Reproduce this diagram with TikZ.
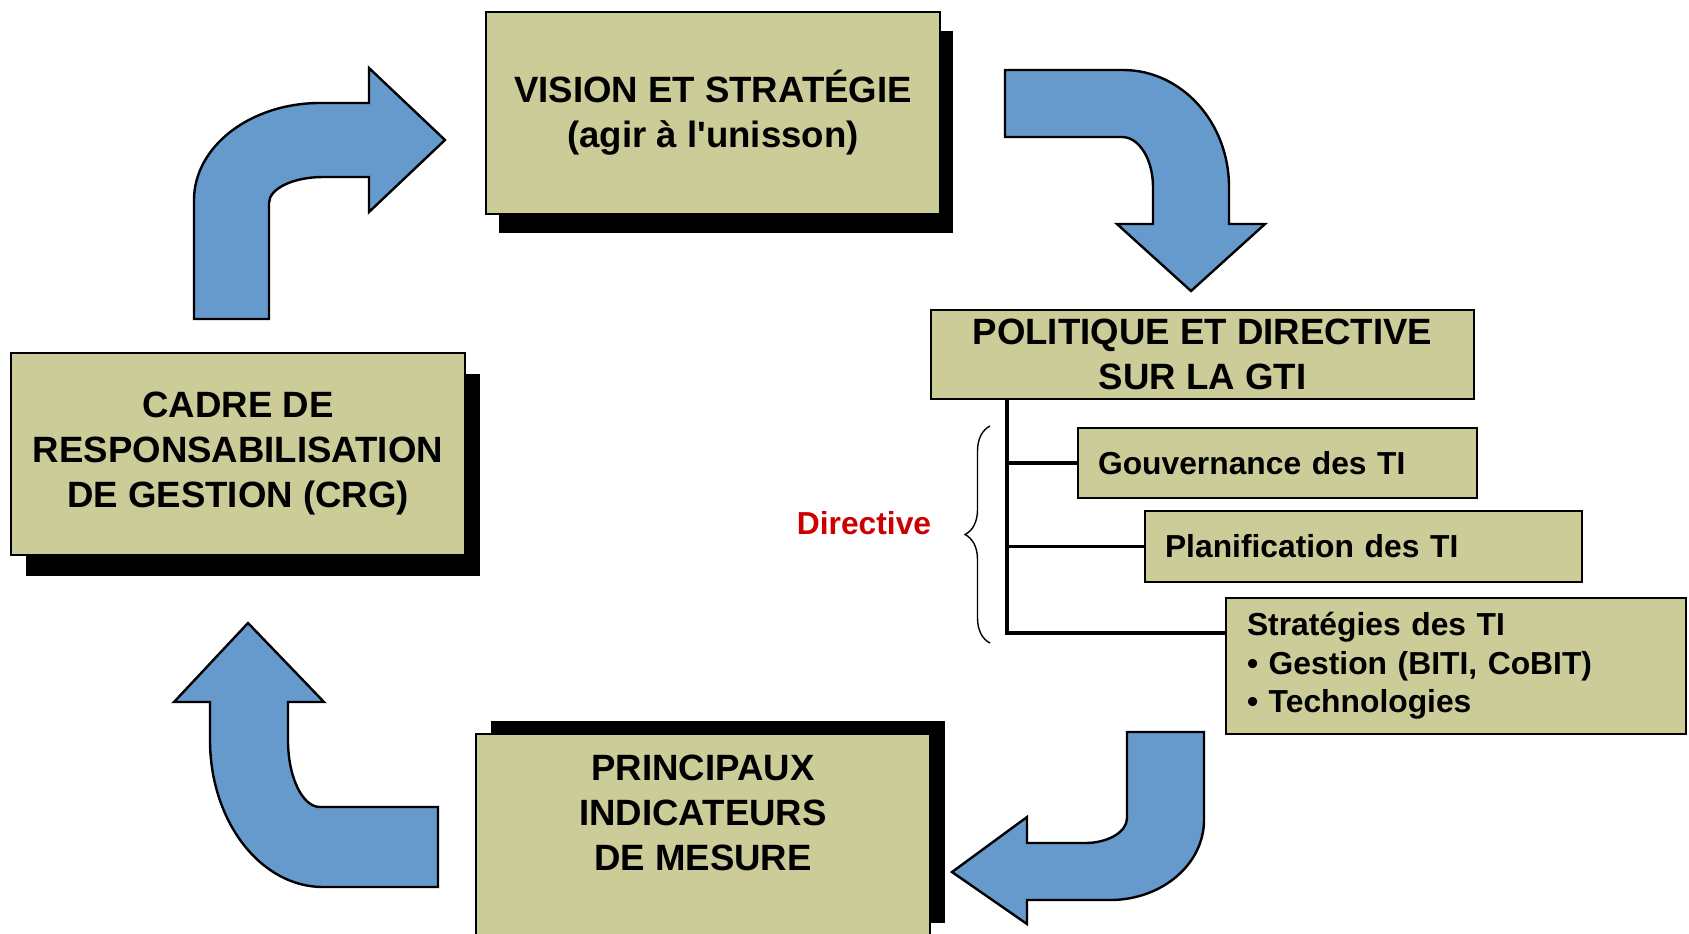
\documentclass[tikz,border=0pt]{standalone}
\usepackage{fontspec}
\setmainfont{Liberation Sans}
\usetikzlibrary{positioning, shadows, decorations.pathreplacing}
\definecolor{boxkhaki}{RGB}{204,204,153}
\definecolor{arrowblue}{RGB}{102,153,204}
\definecolor{dirred}{RGB}{204,0,0}

\begin{document}
\begin{tikzpicture}[x=0.5pt, y=-0.5pt,
    title box/.style={draw, line width=1pt, fill=boxkhaki, minimum width=227pt, minimum height=101pt, align=center, font=\fontsize{18.3}{22.5}\selectfont\bfseries},
    title text/.style={inner sep=0pt, align=center, font=\fontsize{18.3}{22.5}\selectfont\bfseries},
    sub box/.style={draw, line width=1pt, fill=boxkhaki, inner xsep=10pt, inner ysep=2pt, align=left, font=\fontsize{15.9}{19.3}\selectfont\bfseries},
    bent arrow/.style={draw, line width=1.2pt, fill=arrowblue, line join=miter},
    tree line/.style={line width=1.8pt}]

    % Frame of the picture
    \path[use as bounding box] (0,0) rectangle (1689,933);

    % Vision box - shadow down right
    \node[title box, drop shadow={shadow xshift=6.5pt, shadow yshift=-9.5pt, fill=black, opacity=1}] (vision) at (713,112.5) {VISION ET STRATÉGIE\\(agir à l\textquotesingle unisson)};

    % CRG box - shadow down right
    \node[title box, drop shadow={shadow xshift=7.5pt, shadow yshift=-10.5pt, fill=black, opacity=1}] (crg) at (238,454) {CADRE DE\\RESPONSABILISATION\\DE GESTION (CRG)};

    % Measure box - shadow up right, runs past the bottom edge
    \node[title box, anchor=north west, drop shadow={shadow xshift=7.5pt, shadow yshift=6.5pt, fill=black, opacity=1}] (mesure) at (475,733) {};
    \node[title text, below=11pt of mesure.north] (mesure-text) {PRINCIPAUX\\INDICATEURS\\DE MESURE};

    % Policy box and its three parts
    \node[title box, minimum width=271.5pt, minimum height=44.5pt, inner sep=1pt] (gti) at (1202.5,354.5) {POLITIQUE ET DIRECTIVE\\SUR LA GTI};
    \node[sub box, text width=179.5pt, minimum height=35pt] (gouv) at (1277.5,463) {Gouvernance des TI};
    \node[sub box, text width=198.5pt, minimum height=35.5pt] (plan) at (1363.5,546.5) {Planification des TI};
    \node[sub box, inner xsep=10.5pt, text width=209pt, minimum height=68pt] (strat) at (1456,666) {Stratégies des TI\\• Gestion (BITI, CoBIT)\\• Technologies};

    % Tree from the policy box
    \coordinate (trunk) at (1007,633);
    \draw[tree line] (gti.south -| trunk) -- (trunk) -- (trunk -| strat.west);
    \draw[tree line] (gouv.west -| trunk) -- (gouv.west);
    \draw[tree line] (plan.west -| trunk) -- (plan.west);

    % Brace and its label
    \coordinate (brace-top) at (990,426);
    \coordinate (brace-bot) at (990,643);
    \draw[line width=0.7pt, decorate, decoration={brace, amplitude=12.5pt}] (brace-bot) -- (brace-top);
    \node[font=\fontsize{15.9}{18}\selectfont\bfseries, text=dirred] (directive) at (864,523) {Directive};

    % Block arrows of the cycle
    \draw[bent arrow] (194,319) -- (194,200) arc[start angle=180, end angle=270, x radius=126, y radius=97]
        -- (369,103) -- (369,68) -- (445,140) -- (369,212) -- (369,177) -- (323,177)
        arc[start angle=270, end angle=180, x radius=54, y radius=26] -- (269,319) -- cycle;
    \draw[bent arrow] (1005,70) -- (1123,70) arc[start angle=270, end angle=360, x radius=106, y radius=117]
        -- (1229,224) -- (1265,224) -- (1191,291) -- (1117,224) -- (1153,224) -- (1153,187)
        arc[start angle=0, end angle=-90, x radius=31, y radius=50] -- (1005,137) -- cycle;
    \draw[bent arrow] (1127,732) -- (1204,732) -- (1204,820) arc[start angle=0, end angle=90, x radius=94, y radius=80]
        -- (1027,900) -- (1027,924) -- (952,872) -- (1027,817) -- (1027,843) -- (1085,843)
        arc[start angle=90, end angle=0, x radius=42, y radius=25] -- cycle;
    \draw[bent arrow] (438,807) -- (438,887) -- (323,887) arc[start angle=90, end angle=180, x radius=113, y radius=147]
        -- (210,702) -- (174,702) -- (248,623) -- (324,702) -- (288,702) -- (288,740)
        arc[start angle=180, end angle=90, x radius=32, y radius=67] -- cycle;

\end{tikzpicture}
\end{document}
